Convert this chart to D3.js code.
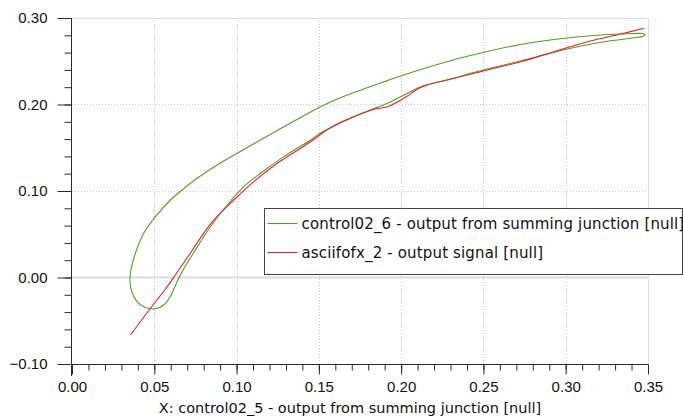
<!DOCTYPE html>
<html>
<head>
<meta charset="utf-8">
<script src="https://cdn.jsdelivr.net/npm/d3@7"></script>
<style>
  html, body { margin: 0; padding: 0; background: #fff; }
  svg { display: block; font-family: "DejaVu Sans", Verdana, sans-serif; }
</style>
</head>
<body>
<svg id="chart" width="683" height="419"></svg>
<script>
// ---------- data ----------
var xTicks = [0.00, 0.05, 0.10, 0.15, 0.20, 0.25, 0.30, 0.35];
var yTicks = [-0.10, 0.00, 0.10, 0.20, 0.30];
var xLabel = 'X: control02_5 - output from summing junction [null]';
var seriesNames = ['control02_6 - output from summing junction [null]', 'asciifofx_2 - output signal [null]'];
var seriesColors = ['#579b27', '#e3232b'];

// control02_6 (closed loop)
var greenX = [0.0487, 0.0436, 0.0395, 0.0364, 0.0352, 0.0358, 0.0385, 0.0436, 0.0507, 0.0598, 0.0669, 0.0760, 0.0882, 0.1004, 0.1145, 0.1287, 0.1450, 0.1510, 0.1571, 0.1638, 0.1713, 0.1814, 0.1916, 0.2015, 0.2119, 0.2321, 0.2524, 0.2727, 0.2929, 0.3133, 0.3335, 0.3467, 0.3481, 0.3473,
  0.3396, 0.3234, 0.3031, 0.2829, 0.2625, 0.2423, 0.2321, 0.2119, 0.2017, 0.1916, 0.1814, 0.1713, 0.1612, 0.1510, 0.1450, 0.1287, 0.1145, 0.1044, 0.0943, 0.0841, 0.0740, 0.0689, 0.0646, 0.0616, 0.0592, 0.0561, 0.0525, 0.0487];
var greenY = [-0.0364, -0.0338, -0.0280, -0.0168, -0.0040, 0.0087, 0.0280, 0.0511, 0.0703, 0.0896, 0.1012, 0.1147, 0.1301, 0.1436, 0.1590, 0.1743, 0.1913, 0.1973, 0.2029, 0.2083, 0.2138, 0.2208, 0.2276, 0.2341, 0.2405, 0.2518, 0.2613, 0.2694, 0.2751, 0.2792, 0.2815, 0.2820, 0.2809, 0.2792,
  0.2765, 0.2726, 0.2650, 0.2553, 0.2457, 0.2361, 0.2303, 0.2206, 0.2110, 0.2014, 0.1936, 0.1859, 0.1769, 0.1671, 0.1590, 0.1397, 0.1205, 0.1050, 0.0838, 0.0587, 0.0289, 0.0133, -0.0017, -0.0145, -0.0237, -0.0312, -0.0353, -0.0364];

// asciifofx_2
var redX = [0.0355, 0.0476, 0.0568, 0.0628, 0.0720, 0.0841, 0.0983, 0.1105, 0.1247, 0.1450, 0.1572, 0.1713, 0.1835, 0.1916, 0.2017, 0.2119, 0.2321, 0.2524, 0.2727, 0.2929, 0.3133, 0.3335, 0.3477];
var redY = [-0.0665, -0.0358, -0.0133, 0.0029, 0.0283, 0.0618, 0.0896, 0.1108, 0.1320, 0.1570, 0.1734, 0.1859, 0.1945, 0.1973, 0.2072, 0.2197, 0.2303, 0.2399, 0.2495, 0.2610, 0.2726, 0.2815, 0.2881];

// ---------- layout ----------
var svg = d3.select('#chart');
var L = 72, R = 648, T = 18, B = 364;
var x = d3.scaleLinear().domain([0, 0.35]).range([L, R]);
var y = d3.scaleLinear().domain([-0.10, 0.30]).range([B, T]);
var AX = '#2b2b2b';

// grid
var grid = svg.append('g');
grid.selectAll('line.gx').data(xTicks.filter(function (d) { return d > 0 && d < 0.35; })).join('line')
  .attr('x1', function (d) { return Math.round(x(d)) + 0.5; }).attr('x2', function (d) { return Math.round(x(d)) + 0.5; })
  .attr('y1', T).attr('y2', B).attr('stroke', '#c8c8c8').attr('stroke-dasharray', '1,2');
grid.selectAll('line.gy').data([0.10, 0.20]).join('line')
  .attr('y1', function (d) { return Math.round(y(d)) + 0.5; }).attr('y2', function (d) { return Math.round(y(d)) + 0.5; })
  .attr('x1', L).attr('x2', R).attr('stroke', '#c8c8c8').attr('stroke-dasharray', '1,2');
// zero line and frame
grid.append('line').attr('x1', L).attr('x2', R).attr('y1', y(0)).attr('y2', y(0)).attr('stroke', '#dcdcdc').attr('stroke-width', 2);
grid.append('line').attr('x1', L).attr('x2', R).attr('y1', Math.round(y(0.30)) + 0.5).attr('y2', Math.round(y(0.30)) + 0.5).attr('stroke', '#dcdcdc');
grid.append('line').attr('x1', Math.round(x(0.35)) + 0.5).attr('x2', Math.round(x(0.35)) + 0.5).attr('y1', T).attr('y2', B).attr('stroke', '#dcdcdc');

// series
var line = d3.line().x(function (d) { return x(d[0]); }).y(function (d) { return y(d[1]); }).curve(d3.curveCatmullRom.alpha(0.5));
var green = greenX.map(function (v, i) { return [v, greenY[i]]; });
var red = redX.map(function (v, i) { return [v, redY[i]]; });
svg.append('path').datum(green).attr('d', line).attr('fill', 'none').attr('stroke', seriesColors[0]).attr('stroke-width', 1.1);
svg.append('path').datum(red).attr('d', line).attr('fill', 'none').attr('stroke', seriesColors[1]).attr('stroke-width', 1.1);

// axes
var yMinor = d3.range(-0.10, 0.3001, 0.02);
var xMinor = d3.range(0, 0.3501, 0.01);
var gy = svg.append('g').attr('transform', 'translate(' + (L - 0.5) + ',0)');
gy.call(d3.axisLeft(y).tickValues(yMinor).tickSize(7).tickFormat(''))
  .call(function (g) { g.selectAll('line,path').attr('stroke', AX); });
gy.append('g').call(d3.axisLeft(y).tickValues(yTicks).tickSize(14).tickPadding(10).tickFormat(d3.format('.2f')))
  .call(function (g) { g.select('.domain').remove(); g.selectAll('line').attr('stroke', AX); g.selectAll('text').attr('fill', '#111').attr('font-size', 15).attr('font-family', null); });
gy.select('.domain').attr('d', 'M0,' + T + 'V' + (B + 12));

var gx = svg.append('g').attr('transform', 'translate(0,' + (B + 0.5) + ')');
gx.call(d3.axisBottom(x).tickValues(xMinor).tickSize(6).tickFormat(''))
  .call(function (g) { g.selectAll('line,path').attr('stroke', AX); g.select('.domain').attr('d', 'M' + L + ',0H' + R); });
gx.append('g').call(d3.axisBottom(x).tickValues(xTicks).tickSize(10).tickPadding(7).tickFormat(d3.format('.2f')))
  .call(function (g) { g.select('.domain').remove(); g.selectAll('line').attr('stroke', AX); g.selectAll('text').attr('fill', '#111').attr('font-size', 15).attr('font-family', null); });

svg.append('text').attr('x', 350).attr('y', 413).attr('text-anchor', 'middle').attr('font-size', 14.5).attr('fill', '#111').text(xLabel);

// legend
var lg = svg.append('g').attr('transform', 'translate(264.5,208.5)');
lg.append('rect').attr('width', 418).attr('height', 66).attr('fill', '#fff').attr('stroke', '#444');
seriesNames.forEach(function (n, i) {
  var yy = 15 + i * 29;
  lg.append('line').attr('x1', 3).attr('x2', 33).attr('y1', yy).attr('y2', yy).attr('stroke', seriesColors[i]).attr('stroke-width', 1.1);
  lg.append('text').attr('x', 37).attr('y', yy).attr('dy', '0.35em').attr('font-size', 15).attr('letter-spacing', 0.15).attr('fill', '#111').text(n);
});
</script>
</body>
</html>
